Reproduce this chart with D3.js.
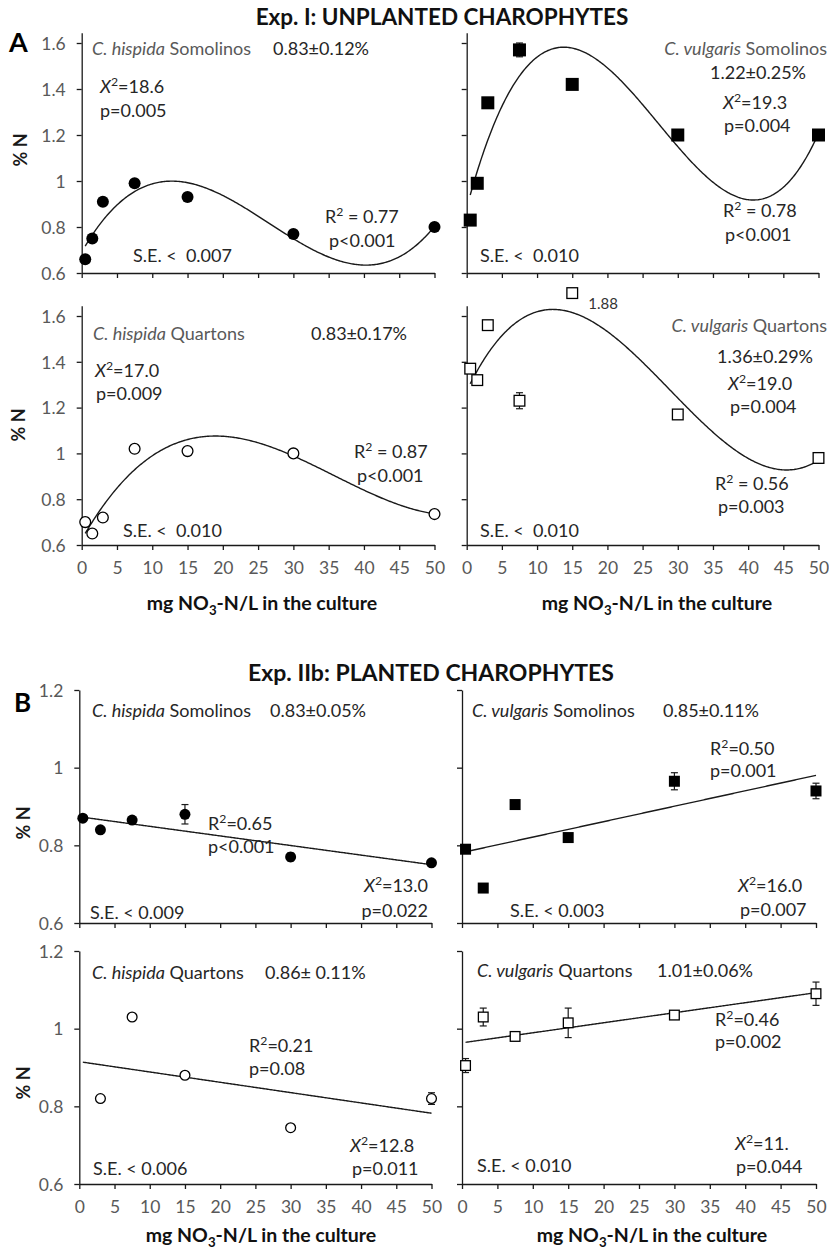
<!DOCTYPE html>
<html>
<head>
<meta charset="utf-8">
<script src="https://cdn.jsdelivr.net/npm/d3@7"></script>
<style>
  body { margin: 0; background: #fff; }
  svg { display: block; font-family: Lato, "Open Sans", sans-serif; }
  text { white-space: pre; }
</style>
</head>
<body>
<svg id="chart" width="829" height="1249"></svg>
<script>
// ---- nitrate levels in the cultures (mg NO3-N/L) ----
const concA = [0.5, 1.5, 3, 7.5, 15, 30, 50];
const concB = [0.5, 3, 7.5, 15, 30, 50];

// ---- axis ticks ----
const xTicks = [0, 5, 10, 15, 20, 25, 30, 35, 40, 45, 50];
const yTicksA = [0.6, 0.8, 1, 1.2, 1.4, 1.6];
const yTicksB = [0.6, 0.8, 1, 1.2];

// ---- Exp. I: unplanted charophytes, % N (mean) and S.E. ----
const hispidaSomolinosA   = [0.66, 0.75, 0.91, 0.99, 0.93, 0.77, 0.80];
const hispidaSomolinosAse = [0, 0, 0, 0, 0, 0, 0];
const vulgarisSomolinosA   = [0.83, 0.99, 1.34, 1.57, 1.42, 1.20, 1.20];
const vulgarisSomolinosAse = [0, 0, 0, 0.03, 0, 0, 0];
const hispidaQuartonsA   = [0.70, 0.65, 0.72, 1.02, 1.01, 1.00, 0.735];
const hispidaQuartonsAse = [0.02, 0, 0, 0, 0, 0, 0];
const vulgarisQuartonsA   = [1.37, 1.32, 1.56, 1.23, 1.88, 1.17, 0.98];
const vulgarisQuartonsAse = [0, 0, 0, 0.035, 0, 0, 0];

// ---- Exp. IIb: planted charophytes, % N (mean) and S.E. ----
const hispidaSomolinosB   = [0.87, 0.84, 0.865, 0.88, 0.77, 0.755];
const hispidaSomolinosBse = [0, 0, 0, 0.025, 0.01, 0];
const vulgarisSomolinosB   = [0.79, 0.69, 0.905, 0.82, 0.965, 0.94];
const vulgarisSomolinosBse = [0, 0, 0, 0, 0.022, 0.02];
const hispidaQuartonsB   = [null, 0.82, 1.03, 0.88, 0.745, 0.82];
const hispidaQuartonsBse = [0, 0, 0, 0, 0, 0.015];
const vulgarisQuartonsB   = [0.905, 1.03, 0.98, 1.015, 1.035, 1.09];
const vulgarisQuartonsBse = [0.018, 0.023, 0, 0.038, 0.01, 0.03];

// values above this are drawn pinned to the top of the panel and labelled
const displayCapA = 1.70;

// ---- least-squares polynomial trend ----
function polyfit(xs, ys, deg) {
  const s = 50, n = deg + 1;
  const M = Array.from({ length: n }, () => new Array(n + 1).fill(0));
  xs.forEach((x, k) => {
    const u = x / s;
    for (let i = 0; i < n; i++) {
      for (let j = 0; j < n; j++) M[i][j] += Math.pow(u, i + j);
      M[i][n] += ys[k] * Math.pow(u, i);
    }
  });
  for (let c = 0; c < n; c++) {
    let piv = c;
    for (let r = c + 1; r < n; r++) if (Math.abs(M[r][c]) > Math.abs(M[piv][c])) piv = r;
    [M[c], M[piv]] = [M[piv], M[c]];
    for (let r = 0; r < n; r++) {
      if (r === c) continue;
      const f = M[r][c] / M[c][c];
      for (let k = c; k <= n; k++) M[r][k] -= f * M[c][k];
    }
  }
  const coef = M.map((row, i) => row[n] / row[i]);
  return x => coef.reduce((acc, c, i) => acc + c * Math.pow(x / s, i), 0);
}

// ---- text helper: parts may be italic or superscript/subscript ----
function richText(g, o) {
  const size = o.size || 18;
  const t = g.append("text")
    .attr("x", o.x).attr("y", o.y)
    .attr("text-anchor", o.anchor || "start")
    .attr("font-size", size)
    .attr("font-weight", o.bold ? 700 : 400)
    .attr("fill", o.fill || "#262626");
  let shift = 0;
  o.parts.forEach(p => {
    if (typeof p === "string") p = { t: p };
    const target = p.sup ? -Math.round(size * 0.38) : p.sub ? Math.round(size * 0.25) : 0;
    const ts = t.append("tspan").text(p.t).attr("dy", target - shift);
    shift = target;
    if (p.i) ts.attr("font-style", "italic");
    if (p.sup || p.sub) ts.attr("font-size", "68%");
    if (p.fill) ts.attr("fill", p.fill);
  });
  return t;
}

const svg = d3.select("#chart");

// ---- panel layout ----
const colA = { left: [81.7, 434.5], right: [466.7, 818.5] };
const colB = { left: [79.3, 431.5], right: [462, 816] };
const grey = "#595959";

const panels = [
  { conc: concA, vals: hispidaSomolinosA, se: hispidaSomolinosAse, shape: "circle", filled: true, deg: 3,
    xr: colA.left, yr: [273, 43], yTicks: yTicksA, axisTop: 1.645, yLabels: true, xLabels: false, size: 12,
    notes: [
      { x: 92, y: 55, fill: grey, parts: [{ t: "C. hispida", i: true }, " Somolinos"] },
      { x: 273, y: 55, parts: ["0.83±0.12%"] },
      { x: 100, y: 93, parts: [{ t: "X", i: true }, { t: "2", sup: true }, "=18.6"] },
      { x: 100, y: 117, parts: ["p=0.005"] },
      { x: 133, y: 262, parts: ["S.E. <  0.007"] },
      { x: 325, y: 223, parts: ["R", { t: "2", sup: true }, " = 0.77"] },
      { x: 329, y: 247, parts: ["p<0.001"] }
    ] },
  { conc: concA, vals: vulgarisSomolinosA, se: vulgarisSomolinosAse, shape: "square", filled: true, deg: 3,
    xr: colA.right, yr: [273, 43], yTicks: yTicksA, axisTop: 1.645, yLabels: false, xLabels: false, size: 13,
    notes: [
      { x: 827, y: 55, anchor: "end", fill: grey, parts: [{ t: "C. vulgaris", i: true }, " Somolinos"] },
      { x: 710, y: 79, parts: ["1.22±0.25%"] },
      { x: 723, y: 109, parts: [{ t: "X", i: true }, { t: "2", sup: true }, "=19.3"] },
      { x: 724, y: 132, parts: ["p=0.004"] },
      { x: 480, y: 262, parts: ["S.E. <  0.010"] },
      { x: 723, y: 217, parts: ["R", { t: "2", sup: true }, " = 0.78"] },
      { x: 725, y: 241, parts: ["p<0.001"] }
    ] },
  { conc: concA, vals: hispidaQuartonsA, se: hispidaQuartonsAse, shape: "circle", filled: false, deg: 3,
    xr: colA.left, yr: [545, 316], yTicks: yTicksA, axisTop: 1.645, yLabels: true, xLabels: true, size: 12,
    notes: [
      { x: 93, y: 340, fill: grey, parts: [{ t: "C. hispida", i: true }, " Quartons"] },
      { x: 311, y: 340, parts: ["0.83±0.17%"] },
      { x: 95, y: 377, parts: [{ t: "X", i: true }, { t: "2", sup: true }, "=17.0"] },
      { x: 96, y: 400, parts: ["p=0.009"] },
      { x: 123, y: 537, parts: ["S.E. <  0.010"] },
      { x: 354, y: 458, parts: ["R", { t: "2", sup: true }, " = 0.87"] },
      { x: 357, y: 482, parts: ["p<0.001"] }
    ] },
  { conc: concA, vals: vulgarisQuartonsA, se: vulgarisQuartonsAse, shape: "square", filled: false, deg: 3,
    xr: colA.right, yr: [545, 316], yTicks: yTicksA, axisTop: 1.645, yLabels: false, xLabels: true, size: 12,
    cap: displayCapA,
    notes: [
      { x: 827, y: 332, anchor: "end", fill: grey, parts: [{ t: "C. vulgaris", i: true }, " Quartons"] },
      { x: 717, y: 363, parts: ["1.36±0.29%"] },
      { x: 728, y: 390, parts: [{ t: "X", i: true }, { t: "2", sup: true }, "=19.0"] },
      { x: 730, y: 413, parts: ["p=0.004"] },
      { x: 480, y: 537, parts: ["S.E. <  0.010"] },
      { x: 715, y: 490, parts: ["R", { t: "2", sup: true }, " = 0.56"] },
      { x: 718, y: 513, parts: ["p=0.003"] }
    ] },
  { conc: concB, vals: hispidaSomolinosB, se: hispidaSomolinosBse, shape: "circle", filled: true, deg: 1,
    xr: colB.left, yr: [923, 690], yTicks: yTicksB, axisTop: 1.2, yLabels: true, xLabels: false, size: 11,
    notes: [
      { x: 92, y: 717, parts: [{ t: "C. hispida", i: true }, " Somolinos"] },
      { x: 270, y: 717, parts: ["0.83±0.05%"] },
      { x: 208, y: 830, parts: ["R", { t: "2", sup: true }, "=0.65"] },
      { x: 208, y: 853, parts: ["p<0.001"] },
      { x: 428, y: 892, anchor: "end", parts: [{ t: "X", i: true }, { t: "2", sup: true }, "=13.0"] },
      { x: 428, y: 917, anchor: "end", parts: ["p=0.022"] },
      { x: 90, y: 919, parts: ["S.E. < 0.009"] }
    ] },
  { conc: concB, vals: vulgarisSomolinosB, se: vulgarisSomolinosBse, shape: "square", filled: true, deg: 1,
    xr: colB.right, yr: [923, 690], yTicks: yTicksB, axisTop: 1.2, yLabels: false, xLabels: false, size: 11,
    notes: [
      { x: 472, y: 717, parts: [{ t: "C. vulgaris", i: true }, " Somolinos"] },
      { x: 663, y: 717, parts: ["0.85±0.11%"] },
      { x: 710, y: 755, parts: ["R", { t: "2", sup: true }, "=0.50"] },
      { x: 710, y: 777, parts: ["p=0.001"] },
      { x: 738, y: 892, parts: [{ t: "X", i: true }, { t: "2", sup: true }, "=16.0"] },
      { x: 740, y: 916, parts: ["p=0.007"] },
      { x: 510, y: 917, parts: ["S.E. < 0.003"] }
    ] },
  { conc: concB, vals: hispidaQuartonsB, se: hispidaQuartonsBse, shape: "circle", filled: false, deg: 1,
    xr: colB.left, yr: [1184, 951], yTicks: yTicksB, axisTop: 1.2, yLabels: true, xLabels: true, size: 11,
    notes: [
      { x: 92, y: 979, parts: [{ t: "C. hispida", i: true }, " Quartons"] },
      { x: 265, y: 979, parts: ["0.86± 0.11%"] },
      { x: 249, y: 1052, parts: ["R", { t: "2", sup: true }, "=0.21"] },
      { x: 249, y: 1075, parts: ["p=0.08"] },
      { x: 350, y: 1152, parts: [{ t: "X", i: true }, { t: "2", sup: true }, "=12.8"] },
      { x: 352, y: 1175, parts: ["p=0.011"] },
      { x: 93, y: 1175, parts: ["S.E. < 0.006"] }
    ] },
  { conc: concB, vals: vulgarisQuartonsB, se: vulgarisQuartonsBse, shape: "square", filled: false, deg: 1,
    xr: colB.right, yr: [1184, 951], yTicks: yTicksB, axisTop: 1.2, yLabels: false, xLabels: true, size: 11,
    notes: [
      { x: 477, y: 977, parts: [{ t: "C. vulgaris", i: true }, " Quartons"] },
      { x: 657, y: 977, parts: ["1.01±0.06%"] },
      { x: 715, y: 1026, parts: ["R", { t: "2", sup: true }, "=0.46"] },
      { x: 715, y: 1048, parts: ["p=0.002"] },
      { x: 735, y: 1150, parts: [{ t: "X", i: true }, { t: "2", sup: true }, "=11."] },
      { x: 736, y: 1173, parts: ["p=0.044"] },
      { x: 477, y: 1172, parts: ["S.E. < 0.010"] }
    ] }
];

const ink = "#1a1a1a";

panels.forEach(p => {
  const g = svg.append("g");
  const x = d3.scaleLinear().domain([0, 50]).range(p.xr);
  const y = d3.scaleLinear().domain([0.6, p.yTicks[p.yTicks.length - 1]]).range(p.yr);
  const yAxisScale = d3.scaleLinear().domain([0.6, p.axisTop]).range([y(0.6), y(p.axisTop)]);

  // axes
  const ya = g.append("g").attr("transform", `translate(${p.xr[0]},0)`)
    .call(d3.axisLeft(yAxisScale).tickValues(p.yTicks).tickSizeInner(5).tickSizeOuter(0).tickPadding(11)
      .tickFormat(p.yLabels ? d3.format("~g") : () => ""));
  const xa = g.append("g").attr("transform", `translate(0,${y(0.6)})`)
    .call(d3.axisBottom(x).tickValues(xTicks).tickSizeInner(5).tickSizeOuter(0).tickPadding(12)
      .tickFormat(p.xLabels ? d3.format("~g") : () => ""));
  [ya, xa].forEach(a => {
    a.select(".domain").attr("stroke", ink).attr("stroke-width", 1.3);
    a.selectAll(".tick line").attr("stroke", ink).attr("stroke-width", 1.3);
    a.selectAll(".tick text").attr("fill", grey).attr("font-size", 17.5).attr("font-family", "Lato, sans-serif");
  });
  ya.selectAll(".tick text").attr("dy", "0.36em");
  xa.selectAll(".tick text").attr("dy", "0.68em");

  // points with values present
  const pts = p.conc.map((c, i) => ({ c, v: p.vals[i], se: p.se[i] })).filter(d => d.v != null);
  const shown = d => (p.cap != null ? Math.min(d.v, p.cap) : d.v);

  // error bars
  const eb = g.append("g").attr("stroke", ink).attr("stroke-width", 1.2);
  pts.filter(d => d.se > 0).forEach(d => {
    const cx = x(d.c);
    eb.append("line").attr("x1", cx).attr("x2", cx).attr("y1", y(d.v - d.se)).attr("y2", y(d.v + d.se));
    [d.v - d.se, d.v + d.se].forEach(v =>
      eb.append("line").attr("x1", cx - 3.5).attr("x2", cx + 3.5).attr("y1", y(v)).attr("y2", y(v)));
  });

  // trend (least squares fit on the plotted means)
  const f = polyfit(pts.map(d => d.c), pts.map(d => d.v), p.deg);
  const [x0, x1] = d3.extent(p.conc);
  const samples = d3.range(0, 301).map(k => x0 + (x1 - x0) * k / 300);
  g.append("path")
    .attr("d", d3.line().x(c => x(c)).y(c => y(f(c)))(samples))
    .attr("fill", "none").attr("stroke", ink).attr("stroke-width", 1.4);

  // markers
  const mk = g.append("g");
  pts.forEach(d => {
    const cx = x(d.c), cy = y(shown(d));
    const fill = p.filled ? "#000" : "#fff";
    if (p.shape === "circle") {
      mk.append("circle").attr("cx", cx).attr("cy", cy).attr("r", p.size / 2 - (p.filled ? 0 : 0.6))
        .attr("fill", fill).attr("stroke", "#000").attr("stroke-width", p.filled ? 0 : 1.3);
    } else {
      const s = p.size - (p.filled ? 0 : 1.3);
      mk.append("rect").attr("x", cx - s / 2).attr("y", cy - s / 2).attr("width", s).attr("height", s)
        .attr("fill", fill).attr("stroke", "#000").attr("stroke-width", p.filled ? 0 : 1.3);
    }
    if (p.cap != null && d.v > p.cap) {
      g.append("text").attr("x", cx + 16).attr("y", cy + 16)
        .attr("font-size", 15).attr("fill", "#333").text(d3.format(".2f")(d.v));
    }
  });

  // annotations
  p.notes.forEach(n => richText(g, n));
});

// ---- titles, panel letters and axis titles ----
richText(svg, { x: 442, y: 25, anchor: "middle", size: 22.5, bold: true, fill: "#111",
  parts: ["Exp. I: UNPLANTED CHAROPHYTES"] });
richText(svg, { x: 431, y: 681, anchor: "middle", size: 23, bold: true, fill: "#111",
  parts: ["Exp. IIb: PLANTED CHAROPHYTES"] });
richText(svg, { x: 9, y: 52, size: 27, bold: true, fill: "#000", parts: ["A"] });
richText(svg, { x: 14, y: 712, size: 26, bold: true, fill: "#000", parts: ["B"] });

[[21, 150], [19, 425], [24, 823], [24, 1083]].forEach(([cx, cy]) => {
  svg.append("text").attr("transform", `translate(${cx},${cy}) rotate(-90)`)
    .attr("text-anchor", "middle").attr("dy", "0.35em")
    .attr("font-size", 18).attr("font-weight", 700).attr("fill", "#1a1a1a").text("% N");
});

[[262, 610], [657, 610], [261, 1242], [652, 1242]].forEach(([cx, by]) => {
  richText(svg, { x: cx, y: by, anchor: "middle", size: 19.5, bold: true, fill: "#111",
    parts: ["mg NO", { t: "3", sub: true }, "-N/L in the culture"] });
});
</script>
</body>
</html>
